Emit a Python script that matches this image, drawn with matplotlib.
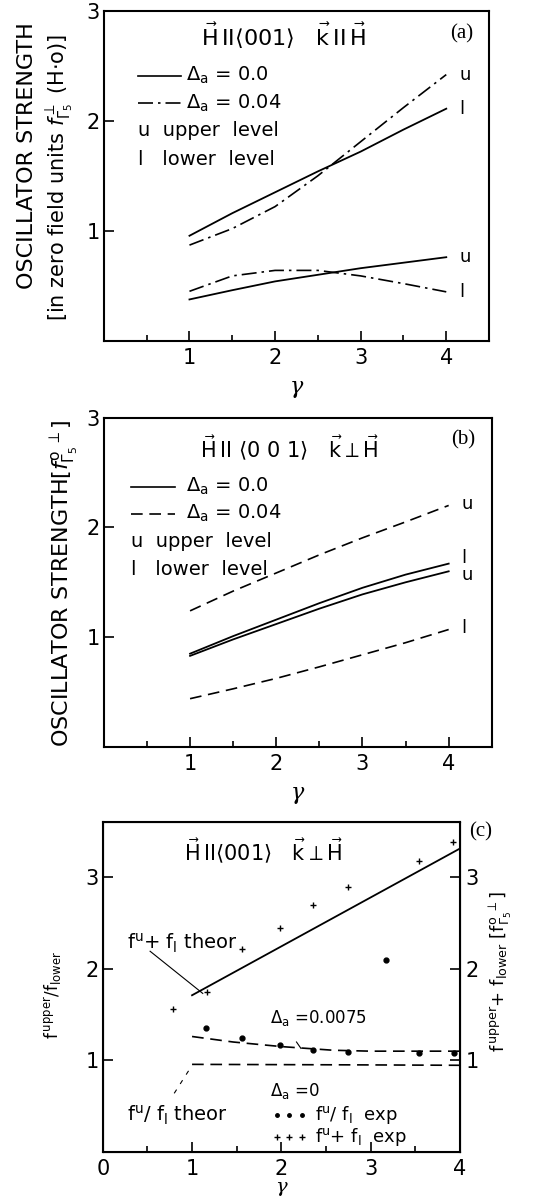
"""Oscillator strength vs gamma, three stacked panels."""

import matplotlib
matplotlib.use("Agg")
import matplotlib.pyplot as plt
from matplotlib.ticker import MultipleLocator

plt.rcParams["font.family"] = ["DejaVu Sans"]
plt.rcParams["mathtext.fontset"] = "dejavusans"

# ---- panel (a): k || H ----
gam_a = [1.0, 1.5, 2.0, 2.5, 3.0, 3.5, 4.0]
a_solid_l = [0.955, 1.16, 1.35, 1.54, 1.72, 1.92, 2.11]
a_dashdot_u = [0.87, 1.02, 1.22, 1.50, 1.81, 2.12, 2.42]
a_solid_u = [0.376, 0.46, 0.54, 0.60, 0.66, 0.71, 0.76]
a_dashdot_l = [0.45, 0.59, 0.64, 0.64, 0.59, 0.52, 0.445]

# ---- panel (b): k perp H ----
gam_b = [1.0, 1.5, 2.0, 2.5, 3.0, 3.5, 4.0]
b_dash_u = [1.24, 1.42, 1.585, 1.75, 1.905, 2.05, 2.20]
b_solid_l = [0.85, 1.01, 1.16, 1.31, 1.45, 1.57, 1.67]
b_solid_u = [0.83, 0.98, 1.12, 1.26, 1.39, 1.50, 1.60]
b_dash_l = [0.44, 0.53, 0.625, 0.73, 0.84, 0.95, 1.07]

# ---- panel (c): ratio and sum ----
gam_sum_theor = [1.0, 4.0]
sum_theor = [1.71, 3.31]
gam_ratio = [1.0, 1.46, 2.0, 2.58, 3.0, 4.0]
ratio_0075 = [1.26, 1.20, 1.15, 1.11, 1.10, 1.10]
gam_ratio0 = [1.0, 2.0, 3.0, 4.0]
ratio_0 = [0.956, 0.953, 0.95, 0.946]
gam_sum_exp = [0.79, 1.17, 1.56, 1.98, 2.36, 2.75, 3.54, 3.92]
sum_exp = [1.56, 1.75, 2.21, 2.44, 2.70, 2.89, 3.18, 3.38]
gam_ratio_exp = [1.16, 1.56, 1.98, 2.35, 2.75, 3.17, 3.54, 3.93]
ratio_exp = [1.35, 1.24, 1.17, 1.11, 1.09, 2.09, 1.08, 1.08]

TICK_FS = 15
DASHDOT = (0, (9, 3, 1.5, 3))
DASHED = (0, (7, 4))
GAMMA = dict(family="DejaVu Serif", style="italic", fontsize=16)
SERIF = dict(family="Liberation Serif", fontsize=15)
H = r"\vec{\mathrm{H}}"
K = r"\vec{\mathrm{k}}"


def style_axes(ax, xmax, ymax):
    ax.set_xlim(0, xmax)
    ax.set_ylim(0, ymax)
    ax.xaxis.set_major_locator(MultipleLocator(1))
    ax.xaxis.set_minor_locator(MultipleLocator(0.5))
    ax.yaxis.set_major_locator(MultipleLocator(1))
    ax.tick_params(which="both", direction="in", top=False, right=False,
                   labelsize=TICK_FS, width=1.2)
    ax.tick_params(which="major", length=7, pad=5)
    ax.tick_params(axis="y", pad=3)
    ax.tick_params(which="minor", length=4)
    for s in ax.spines.values():
        s.set_linewidth(1.5)


fig = plt.figure(figsize=(5.41, 12), dpi=100)

# panel (a)
ax1 = fig.add_axes([0.192, 0.716, 0.712, 0.275])
style_axes(ax1, 4.5, 3)
ax1.set_xticks([1, 2, 3, 4])
ax1.set_yticks([1, 2, 3])
ax1.plot(gam_a, a_solid_l, color="black", lw=1.3)
ax1.plot(gam_a, a_dashdot_u, color="black", lw=1.2, ls=DASHDOT)
ax1.plot(gam_a, a_solid_u, color="black", lw=1.3)
ax1.plot(gam_a, a_dashdot_l, color="black", lw=1.2, ls=DASHDOT)
for y, t in [(2.42, "u"), (2.11, "l"), (0.76, "u"), (0.445, "l")]:
    ax1.text(4.15, y, t, fontsize=13, va="center")
ax1.plot([0.4, 0.9], [2.41, 2.41], color="black", lw=1.2)
ax1.plot([0.4, 0.9], [2.16, 2.16], color="black", lw=1.2, ls=DASHDOT)
ax1.text(0.96, 2.41, r"$\Delta_{\mathrm{a}}$ = 0.0", fontsize=14, va="center")
ax1.text(0.96, 2.16, r"$\Delta_{\mathrm{a}}$ = 0.04", fontsize=14, va="center")
ax1.text(0.4, 1.91, "u  upper  level", fontsize=14, va="center")
ax1.text(0.4, 1.65, "l   lower  level", fontsize=14, va="center")
ax1.text(2.1, 2.77, rf"${H}\,\mathrm{{II}}\langle 001\rangle\quad {K}\,\mathrm{{II}}\,{H}$",
         fontsize=16, ha="center", va="center")
ax1.text(4.18, 2.79, "(a)", ha="center", va="center", **SERIF)
ax1.set_xlabel("γ", labelpad=6, **GAMMA)
fig.text(0.05, 0.87, "OSCILLATOR STRENGTH", rotation=90, fontsize=16,
         ha="center", va="center")
fig.text(0.11, 0.852, r"[in zero field units $f_{\Gamma_5}^{\perp}$ (H$\cdot$o)]",
         rotation=90, fontsize=15, ha="center", va="center")

# panel (b)
ax2 = fig.add_axes([0.192, 0.3775, 0.717, 0.2745])
style_axes(ax2, 4.5, 3)
ax2.set_xticks([1, 2, 3, 4])
ax2.set_yticks([1, 2, 3])
ax2.plot(gam_b, b_dash_u, color="black", lw=1.2, ls=DASHED)
ax2.plot(gam_b, b_solid_l, color="black", lw=1.3)
ax2.plot(gam_b, b_solid_u, color="black", lw=1.3)
ax2.plot(gam_b, b_dash_l, color="black", lw=1.2, ls=DASHED)
for y, t in [(2.21, "u"), (1.72, "l"), (1.57, "u"), (1.08, "l")]:
    ax2.text(4.15, y, t, fontsize=13, va="center")
ax2.plot([0.32, 0.82], [2.37, 2.37], color="black", lw=1.2)
ax2.plot([0.32, 0.82], [2.125, 2.125], color="black", lw=1.2, ls=DASHED)
ax2.text(0.95, 2.37, r"$\Delta_{\mathrm{a}}$ = 0.0", fontsize=14, va="center")
ax2.text(0.95, 2.125, r"$\Delta_{\mathrm{a}}$ = 0.04", fontsize=14, va="center")
ax2.text(0.32, 1.87, "u  upper  level", fontsize=14, va="center")
ax2.text(0.32, 1.62, "l   lower  level", fontsize=14, va="center")
ax2.text(2.15, 2.72, rf"${H}\,\mathrm{{II}}\ \langle 0\ 0\ 1\rangle\quad {K}\perp{H}$",
         fontsize=15, ha="center", va="center")
ax2.text(4.17, 2.8, "(b)", ha="center", va="center", **SERIF)
ax2.set_xlabel("γ", labelpad=6, **GAMMA)
fig.text(0.118, 0.514, r"OSCILLATOR STRENGTH[$f_{\Gamma_5}^{\mathrm{o}\ \perp}$]",
         rotation=90, fontsize=16, ha="center", va="center")

# panel (c)
ax3 = fig.add_axes([0.190, 0.04, 0.660, 0.275])
style_axes(ax3, 4, 3.6)
ax3.set_xticks([0, 1, 2, 3, 4])
ax3.set_yticks([1, 2, 3])
ax3r = ax3.twinx()
ax3r.set_ylim(0, 3.6)
ax3r.set_yticks([1, 2, 3])
ax3r.tick_params(direction="in", length=7, width=1.2, labelsize=TICK_FS, pad=4)
ax3.plot(gam_sum_theor, sum_theor, color="black", lw=1.3)
ax3.plot(gam_ratio, ratio_0075, color="black", lw=1.2, ls=DASHED)
ax3.plot(gam_ratio0, ratio_0, color="black", lw=1.2, ls=DASHED)
ax3.plot(gam_sum_exp, sum_exp, ls="none", marker="+", ms=5, mew=1.0, color="black")
ax3.plot(gam_ratio_exp, ratio_exp, ls="none", marker="o", ms=3.5, color="black")
ax3.plot([0.53, 1.12], [2.19, 1.73], color="black", lw=0.8)
ax3.plot([0.8, 0.99], [0.64, 0.93], color="black", lw=0.8, ls=(0, (4, 6)))
ax3.plot([2.17, 2.22], [1.2, 1.13], color="black", lw=0.8)
ax3.text(0.27, 2.28, r"f$^{\mathrm{u}}$+ f$_{\mathrm{l}}$ theor", fontsize=14, va="center")
ax3.text(0.27, 0.40, r"f$^{\mathrm{u}}$/ f$_{\mathrm{l}}$ theor", fontsize=14, va="center")
ax3.text(1.87, 1.46, r"$\Delta_{\mathrm{a}}$ =0.0075", fontsize=12, va="center")
ax3.text(1.87, 0.67, r"$\Delta_{\mathrm{a}}$ =0", fontsize=12, va="center")
ax3.plot([1.95, 2.09, 2.23], [0.40] * 3, ls="none", marker="o", ms=2.5, color="black")
ax3.plot([1.95, 2.09, 2.23], [0.16] * 3, ls="none", marker="+", ms=5, mew=1.0, color="black")
ax3.text(2.38, 0.40, r"f$^{\mathrm{u}}$/ f$_{\mathrm{l}}$  exp", fontsize=13, va="center")
ax3.text(2.38, 0.16, r"f$^{\mathrm{u}}$+ f$_{\mathrm{l}}$  exp", fontsize=13, va="center")
ax3.text(1.8, 3.28, rf"${H}\,\mathrm{{II}}\langle 001\rangle\quad {K}\perp{H}$",
         fontsize=15, ha="center", va="center")
ax3.text(4.23, 3.49, "(c)", ha="center", va="center", clip_on=False, **SERIF)
ax3.set_xlabel("γ", labelpad=-1, family="DejaVu Serif", style="italic", fontsize=14)
fig.text(0.098, 0.171, r"f$^{\,\mathrm{upper}}$/f$_{\mathrm{lower}}$",
         rotation=90, fontsize=12, ha="center", va="center")
fig.text(0.925, 0.19, r"f$^{\,\mathrm{upper}}$+ f$_{\mathrm{lower}}$ [f$_{\Gamma_5}^{\mathrm{o}\ \perp}$]",
         rotation=90, fontsize=13, ha="center", va="center")

fig.savefig("out.png", dpi=100)
